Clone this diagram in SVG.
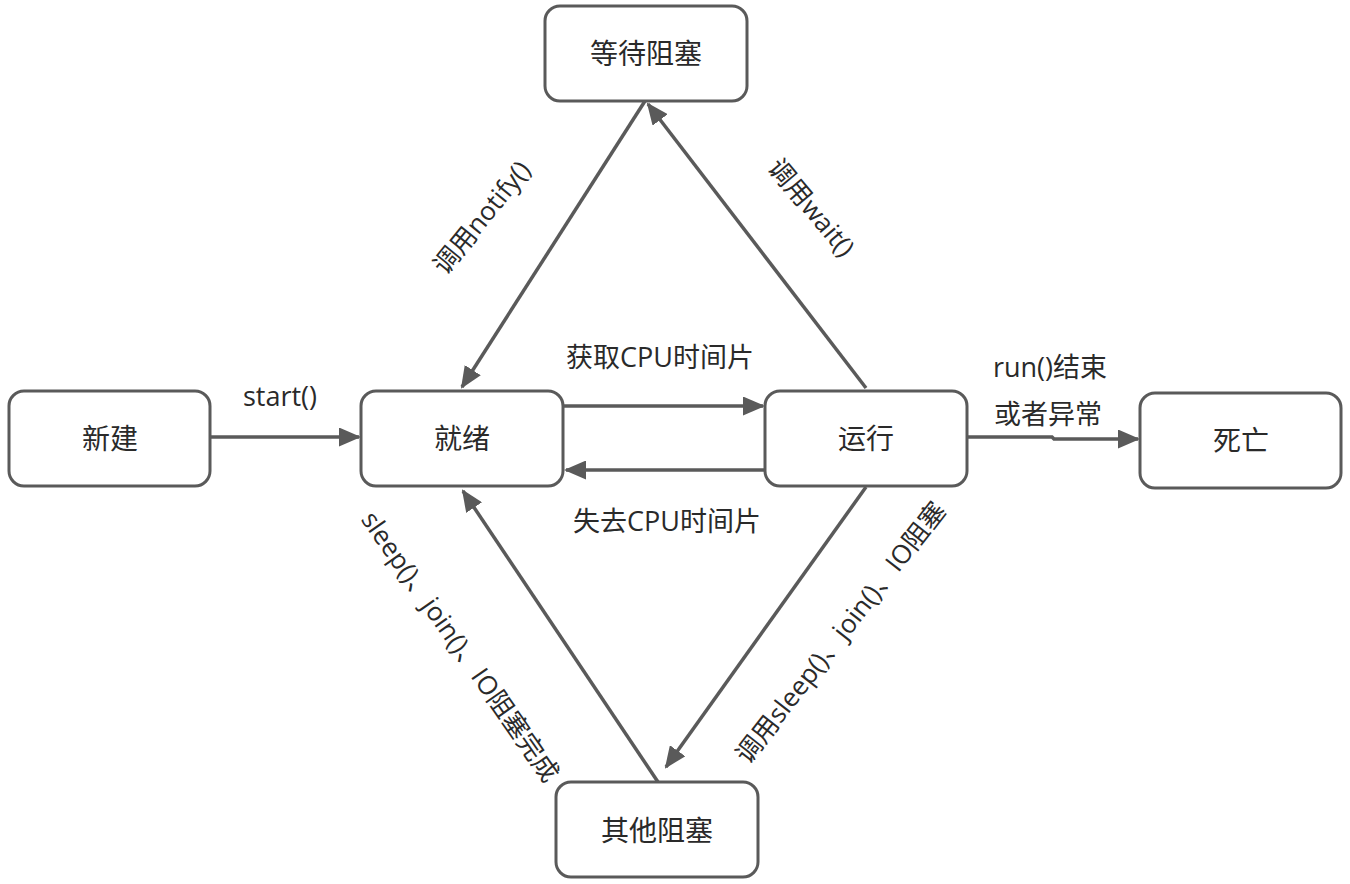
<svg xmlns="http://www.w3.org/2000/svg" width="1350" height="884" viewBox="0 0 1350 884">
<style>
.box{fill:#fff;stroke:#5a5a5a;stroke-width:3}
.t{font-family:"Open Sans","Noto Sans CJK SC",sans-serif;font-size:28px;fill:#2a2a2a;text-anchor:middle;dominant-baseline:central}
.l{font-family:"Open Sans","Noto Sans CJK SC",sans-serif;font-size:27px;fill:#2a2a2a;text-anchor:middle;dominant-baseline:central}
.r{font-size:26px}
.e{fill:none;stroke:#5a5a5a;stroke-width:3.5}
</style>
<defs>
<marker id="ah" viewBox="0 0 22 19" refX="20" refY="9.5" markerWidth="22" markerHeight="19" markerUnits="userSpaceOnUse" orient="auto">
<path d="M0,0 L22,9.5 L0,19 z" fill="#5a5a5a"/>
</marker>
</defs>
<rect width="1350" height="884" fill="#fff"/>
<g id="edges">
<line class="e" x1="210" y1="437" x2="359" y2="437" marker-end="url(#ah)"/>
<line class="e" x1="563" y1="406" x2="763" y2="406" marker-end="url(#ah)"/>
<line class="e" x1="765" y1="470" x2="566" y2="470" marker-end="url(#ah)"/>
<polyline class="e" points="967,437 1052,437 1054,439 1138,439" marker-end="url(#ah)"/>
<line class="e" x1="866" y1="388" x2="648" y2="104" marker-end="url(#ah)"/>
<line class="e" x1="645" y1="101" x2="462" y2="387" marker-end="url(#ah)"/>
<line class="e" x1="866" y1="487" x2="666" y2="767" marker-end="url(#ah)"/>
<line class="e" x1="658" y1="782" x2="463" y2="491" marker-end="url(#ah)"/>
<text class="l" x="280" y="395">start()</text>
<text class="l" x="660" y="356">获取CPU时间片</text>
<text class="l" x="667" y="520">失去CPU时间片</text>
<text class="l" x="1050" y="366">run()结束</text>
<text class="l" x="1048" y="413">或者异常</text>
<text class="l r" transform="translate(481,217) rotate(-51)">调用notify()</text>
<text class="l r" transform="translate(812,207) rotate(50)">调用wait()</text>
<text class="l r" transform="translate(461,646) rotate(55)">sleep()、join()、IO阻塞完成</text>
<text class="l r" transform="translate(840,632) rotate(-52)">调用sleep()、join()、IO阻塞</text>
</g>
<g id="n_new"><rect class="box" x="9" y="391" width="201" height="95" rx="15"/><text class="t" x="110" y="438">新建</text></g>
<g id="n_ready"><rect class="box" x="361" y="391" width="202" height="95" rx="15"/><text class="t" x="462" y="438">就绪</text></g>
<g id="n_run"><rect class="box" x="765" y="391" width="202" height="95" rx="15"/><text class="t" x="866" y="438">运行</text></g>
<g id="n_dead"><rect class="box" x="1140" y="393" width="201" height="95" rx="15"/><text class="t" x="1241" y="440">死亡</text></g>
<g id="n_wait"><rect class="box" x="545" y="6" width="202" height="95" rx="15"/><text class="t" x="646" y="53">等待阻塞</text></g>
<g id="n_other"><rect class="box" x="556" y="782" width="202" height="95" rx="15"/><text class="t" x="657" y="830">其他阻塞</text></g>
</svg>
